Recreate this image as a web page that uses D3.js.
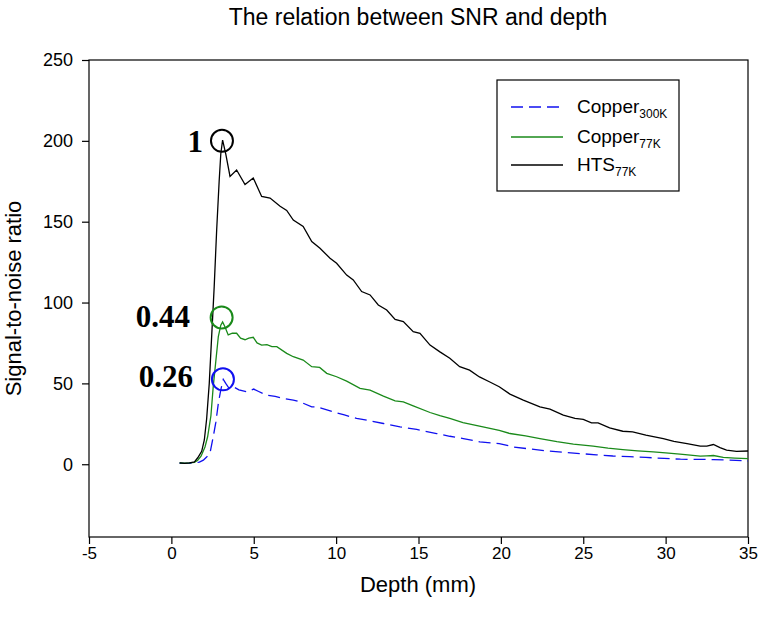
<!DOCTYPE html>
<html><head><meta charset="utf-8">
<script src="https://cdn.jsdelivr.net/npm/d3@7"></script>
<style>body{margin:0;background:#fff}svg{display:block}</style>
</head><body>
<svg id="chart" width="762" height="620"></svg>
<script>
// ---- data ----
const xTicks = [-5, 0, 5, 10, 15, 20, 25, 30, 35];
const yTicks = [0, 50, 100, 150, 200, 250];

const htsDepth = [0.5,0.8,1.1,1.4,1.6,1.84,2.0,2.14,2.3,2.45,2.6,2.75,2.9,3.0,3.11,3.3,3.56,3.96,4.47,4.97,5.48,5.99,6.6,7.0,7.4,8.0,8.52,9.02,9.63,10.03,10.64,11.04,11.55,12.06,12.56,13.07,13.58,14.08,14.68,15.09,15.7,16.3,16.9,17.5,18.1,18.7,19.3,19.9,20.55,21.36,22.37,22.98,23.79,24.5,25.0,25.5,25.9,26.6,27.4,28.0,28.8,29.86,30.5,31.3,32.1,32.5,32.9,33.3,33.7,34.3,35.0];
const htsSNR = [0.8,0.5,0.9,1.5,4,8,15,28,50,80,110,145,175,192,200.5,192,178,182,173,177,165.6,164.6,159.5,157,151,147,137.7,133.6,127.4,124.3,117,114,106.8,104.7,98.5,95.4,89.6,88.2,82,81,73.7,69.5,65.5,60.3,58.2,54,51,47.9,43.4,39.7,35.5,34.1,30.4,28.3,27.7,25.6,25.6,22.5,20.4,20,18,15.9,14.2,12.8,11.2,11.2,12.2,10.3,8.7,8,8.2];

const cu77Depth = [0.5,0.8,1.1,1.4,1.6,1.8,2.04,2.2,2.4,2.54,2.7,2.85,3.0,3.11,3.25,3.45,3.7,3.96,4.2,4.47,4.7,4.97,5.2,5.48,5.8,6.1,6.4,7.0,7.4,8.0,8.52,9.0,9.43,10.03,10.64,11.45,12.06,12.87,13.58,14.08,14.68,15.7,16.3,16.9,17.7,18.7,19.9,20.55,21.5,22.37,23.4,24.4,25.6,26.5,27.4,28.3,29.25,30.0,30.87,31.5,32.1,32.5,32.9,33.5,34.2,35];
const cu77SNR = [0.8,0.6,0.8,1.2,2.5,5,10.7,17,30,48,64,79,86,88,85,80,81,81,78,77,78,78.5,75,73.7,74,72.7,72.7,68.6,66.5,64.4,60.3,59.9,56.2,54.1,51.4,46.9,45.8,42.1,39.2,38.6,36.1,32,30,28.3,25.8,23.5,21,19,17.5,15.9,14,12.4,11.2,10,9.1,8.3,7.6,7,6.2,5.6,5,5.2,5.4,4.2,3.8,3.5];

const cu300Depth = [0.5,0.8,1.1,1.4,1.7,1.94,2.14,2.34,2.54,2.7,2.85,3.0,3.15,3.3,3.5,3.76,4.1,4.57,5.0,5.3,5.78,6.3,6.79,7.4,7.8,8.52,8.82,9.83,10.5,11.24,12.0,12.87,13.88,14.89,16.1,16.9,17.72,18.72,19.9,20.75,21.8,22.8,23.8,24.8,25.8,26.8,27.8,28.8,29.9,30.9,31.9,32.9,33.9,35];
const cu300SNR = [0.6,0.5,0.6,0.8,1.3,2.5,4.5,6.6,17,26,37.6,46,52.5,50,47,47.9,46,44.8,46.5,45,42.7,42,40.7,39.7,38.6,35.5,35.5,32.4,30.5,28.3,27,25.2,23.1,21.5,19,17.3,15.9,13.8,12.8,10.7,9.4,8.2,7.4,6.6,5.8,5.1,4.7,4.2,3.6,3.1,3,2.9,2.5,2];

const seriesNames = ["Copper", "Copper", "HTS"];
const seriesSubs = ["300K", "77K", "77K"];
const seriesColors = ["#1010f0", "#1a8a1a", "#000000"];

const peakLabels = ["1", "0.44", "0.26"];
const peakDepth = [3.07, 3.05, 3.13];
const peakSNR = [200, 90.8, 52.5];
const peakColors = ["#000000", "#1a8a1a", "#1010f0"];

// ---- chart ----
const svg = d3.select("#chart");
const L = 89, R = 748, T = 60, B = 537;
const x = d3.scaleLinear().domain([-5, 35]).range([L, R]);
const y = d3.scaleLinear().domain([-45, 250]).range([B, T]);
const sans = "'Liberation Sans', Arial, sans-serif";
const serif = "'Liberation Serif', 'Times New Roman', serif";

svg.append("text").attr("x", 418).attr("y", 25).attr("text-anchor", "middle")
  .attr("font-family", sans).attr("font-size", 23).text("The relation between SNR and depth");

// frame
svg.append("rect").attr("x", L).attr("y", T).attr("width", R - L).attr("height", B - T)
  .attr("fill", "none").attr("stroke", "#000").attr("stroke-width", 1.2);

const xAxis = svg.append("g").attr("transform", `translate(0,${B})`)
  .call(d3.axisBottom(x).tickValues(xTicks).tickFormat(d => String(d))
    .tickSize(7).tickSizeOuter(0).tickPadding(3));
const yAxis = svg.append("g").attr("transform", `translate(${L},0)`)
  .call(d3.axisLeft(y).tickValues(yTicks).tickFormat(d => String(d))
    .tickSize(7).tickSizeOuter(0).tickPadding(9));
[xAxis, yAxis].forEach(a => {
  a.select(".domain").remove();
  a.selectAll("text").attr("font-family", sans).attr("fill", "#000");
  a.selectAll("line").attr("stroke", "#000").attr("stroke-width", 1.2);
});
xAxis.selectAll("text").attr("font-size", 17);
yAxis.selectAll("text").attr("font-size", 18);

svg.append("text").attr("x", 418).attr("y", 592).attr("text-anchor", "middle")
  .attr("font-family", sans).attr("font-size", 22).text("Depth (mm)");
svg.append("text").attr("transform", `translate(21,${(T + B) / 2}) rotate(-90)`)
  .attr("text-anchor", "middle").attr("font-family", sans).attr("font-size", 22)
  .text("Signal-to-noise ratio");

const line = d3.line().x(d => x(d[0])).y(d => y(d[1]));
const series = [
  { d: d3.zip(cu300Depth, cu300SNR), dash: "12,6" },
  { d: d3.zip(cu77Depth, cu77SNR), dash: null },
  { d: d3.zip(htsDepth, htsSNR), dash: null }
];
series.forEach((s, i) => {
  svg.append("path").datum(s.d).attr("d", line).attr("fill", "none")
    .attr("stroke", seriesColors[i]).attr("stroke-width", 1.3)
    .attr("stroke-dasharray", s.dash);
});

// peak circles & labels
peakLabels.forEach((lab, i) => {
  svg.append("circle").attr("cx", x(peakDepth[i])).attr("cy", y(peakSNR[i])).attr("r", 11)
    .attr("fill", "none").attr("stroke", peakColors[i]).attr("stroke-width", 2);
});
const labX = [203, 190, 193];
const labDy = [11, 10, 8];
peakLabels.forEach((lab, i) => {
  svg.append("text").attr("x", labX[i]).attr("y", y(peakSNR[i]) + labDy[i])
    .attr("text-anchor", "end").attr("font-family", serif)
    .attr("font-weight", "bold").attr("font-size", 31).text(lab);
});

// legend
const lg = svg.append("g");
lg.append("rect").attr("x", 497).attr("y", 80).attr("width", 182).attr("height", 111)
  .attr("fill", "#fff").attr("stroke", "#000").attr("stroke-width", 1.2);
const legY = [107, 137, 165];
const legDash = ["12,6", null, null];
const legEnd = [559, 563, 563];
seriesNames.forEach((n, i) => {
  lg.append("line").attr("x1", 511).attr("x2", legEnd[i]).attr("y1", legY[i]).attr("y2", legY[i])
    .attr("stroke", seriesColors[i]).attr("stroke-width", 1.3).attr("stroke-dasharray", legDash[i]);
  const t = lg.append("text").attr("x", 577).attr("y", legY[i] + 6)
    .attr("font-family", sans).attr("font-size", 19);
  t.append("tspan").text(n);
  t.append("tspan").attr("font-size", 12).attr("dy", 5).text(seriesSubs[i]);
});
</script>
</body></html>
